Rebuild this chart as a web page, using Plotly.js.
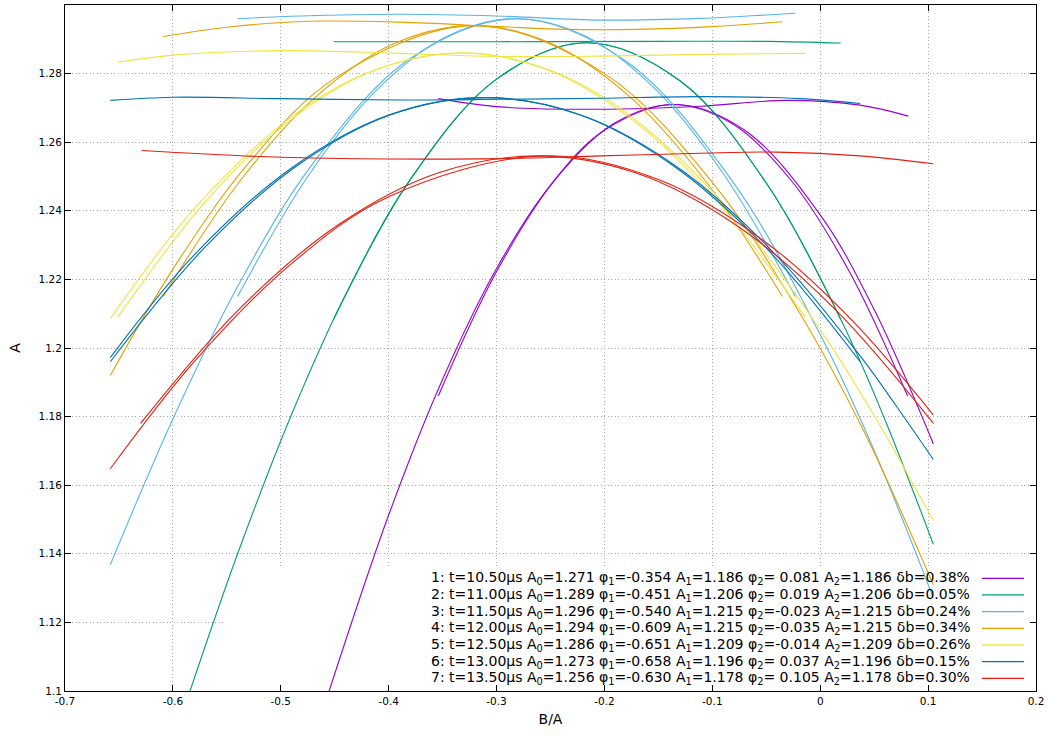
<!DOCTYPE html>
<html>
<head>
<meta charset="utf-8">
<script src="https://cdn.plot.ly/plotly-3.0.1.min.js"></script>
<style>
html,body{margin:0;padding:0;background:#fff;}
#chart{width:1051px;height:736px;}
</style>
</head>
<body>
<div id="chart"></div>
<script>
// ---- legend parameters ----
const seriesColors = ['#9400d3','#009e73','#56b4e9','#e69f00','#f0e442','#0072b2','#e51e10'];
const tValues   = [10.50, 11.00, 11.50, 12.00, 12.50, 13.00, 13.50];
const a0Values  = [1.271, 1.289, 1.296, 1.294, 1.286, 1.273, 1.256];
const phi1Values= [-0.354, -0.451, -0.540, -0.609, -0.651, -0.658, -0.630];
const a1Values  = [1.186, 1.206, 1.215, 1.215, 1.209, 1.196, 1.178];
const phi2Values= [0.081, 0.019, -0.023, -0.035, -0.014, 0.037, 0.105];
const a2Values  = [1.186, 1.206, 1.215, 1.215, 1.209, 1.196, 1.178];
const dbValues  = [0.38, 0.05, 0.24, 0.34, 0.26, 0.15, 0.30];

// ---- tick labels ----
const xTickVals   = [-0.7,-0.6,-0.5,-0.4,-0.3,-0.2,-0.1,0,0.1,0.2];
const xTickLabels = ['-0.7','-0.6','-0.5','-0.4','-0.3','-0.2','-0.1','0','0.1','0.2'];
const yTickVals   = [1.1,1.12,1.14,1.16,1.18,1.2,1.22,1.24,1.26,1.28,1.3];
const yTickLabels = ['1.1','1.12','1.14','1.16','1.18','1.2','1.22','1.24','1.26','1.28','1.3'];

// ---- series 1 ----
const s1FlatX   = [-0.354, -0.297, -0.204, -0.111, -0.03, 0.037, 0.0817];
const s1FlatY   = [1.2727, 1.2703, 1.2696, 1.2705, 1.2722, 1.2708, 1.2676];
const s1WideX   = [-0.456, -0.40, -0.35, -0.30, -0.25, -0.20, -0.135, -0.07, 0.0, 0.05, 0.1048];
const s1WideY   = [1.0992, 1.1513, 1.1909, 1.2232, 1.2475, 1.2635, 1.2710, 1.2635, 1.2388, 1.2112, 1.1721];
const s1NarrowX = [-0.354, -0.2996, -0.2453, -0.1909, -0.1365, -0.0821, -0.0278, 0.0266, 0.081];
const s1NarrowY = [1.186, 1.2225, 1.2492, 1.2655, 1.2710, 1.2655, 1.2492, 1.2225, 1.186];
// ---- series 2 ----
const s2FlatX   = [-0.451, -0.30, -0.15, -0.05, 0.019];
const s2FlatY   = [1.2893, 1.2893, 1.2894, 1.2894, 1.2889];
const s2WideX   = [-0.587, -0.54, -0.49, -0.44, -0.38, -0.30, -0.216, -0.13, -0.05, 0.02, 0.06, 0.1048];
const s2WideY   = [1.0973, 1.1400, 1.1806, 1.2155, 1.2491, 1.2784, 1.2890, 1.2779, 1.2481, 1.2077, 1.1791, 1.1428];
const s2NarrowX = [-0.451, -0.38, -0.30, -0.216, -0.13, -0.05, 0.019];
const s2NarrowY = [1.2084, 1.2491, 1.2784, 1.2890, 1.2779, 1.2481, 1.2084];
// ---- series 3 ----
const s3FlatX   = [-0.540, -0.482, -0.39, -0.30, -0.204, -0.111, -0.05, -0.023];
const s3FlatY   = [1.2960, 1.2968, 1.2973, 1.2968, 1.2956, 1.2961, 1.2971, 1.2976];
const s3WideX   = [-0.658, -0.60, -0.54, -0.47, -0.38, -0.2815, -0.18, -0.08, 0.0, 0.05, 0.1048];
const s3WideY   = [1.1368, 1.1793, 1.2179, 1.2539, 1.2844, 1.2960, 1.2836, 1.2480, 1.2039, 1.1701, 1.1272];
const s3NarrowX = [-0.540, -0.4754, -0.4108, -0.3461, -0.2815, -0.2169, -0.1523, -0.0876, -0.023];
const s3NarrowY = [1.215, 1.2498, 1.2753, 1.2908, 1.2960, 1.2908, 1.2753, 1.2498, 1.215];
// ---- series 4 ----
const s4FlatX   = [-0.609, -0.55, -0.48, -0.39, -0.297, -0.235, -0.17, -0.10, -0.035];
const s4FlatY   = [1.2908, 1.2935, 1.2952, 1.2950, 1.2937, 1.2929, 1.2929, 1.2937, 1.2951];
const s4WideX   = [-0.658, -0.60, -0.53, -0.45, -0.322, -0.20, -0.10, -0.02, 0.04, 0.1048];
const s4WideY   = [1.1920, 1.2230, 1.2538, 1.2786, 1.2940, 1.2800, 1.2483, 1.2107, 1.1760, 1.1310];
const s4NarrowX = [-0.609, -0.5373, -0.4655, -0.3938, -0.322, -0.2503, -0.1785, -0.1068, -0.035];
const s4NarrowY = [1.215, 1.2489, 1.2738, 1.2889, 1.2940, 1.2889, 1.2738, 1.2489, 1.215];
// ---- series 5 ----
const s5FlatX   = [-0.651, -0.60, -0.50, -0.39, -0.297, -0.204, -0.111, -0.0135];
const s5FlatY   = [1.2833, 1.2854, 1.2867, 1.2859, 1.2850, 1.2851, 1.2856, 1.2859];
const s5WideX   = [-0.658, -0.58, -0.49, -0.42, -0.3325, -0.25, -0.18, -0.08, 0.0, 0.05, 0.1048];
const s5WideY   = [1.2086, 1.2407, 1.2674, 1.2802, 1.2860, 1.2809, 1.2686, 1.2388, 1.2053, 1.1803, 1.1497];
const s5NarrowX = [-0.651, -0.5714, -0.4918, -0.4121, -0.3325, -0.2529, -0.1733, -0.0936, -0.014];
const s5NarrowY = [1.209, 1.2421, 1.2663, 1.2811, 1.2860, 1.2811, 1.2663, 1.2421, 1.209];
// ---- series 6 ----
const s6FlatX   = [-0.658, -0.60, -0.50, -0.39, -0.297, -0.204, -0.111, -0.0187, 0.037];
const s6FlatY   = [1.2722, 1.2731, 1.2727, 1.2723, 1.2725, 1.2728, 1.2733, 1.2727, 1.2713];
const s6WideX   = [-0.658, -0.58, -0.49, -0.40, -0.3105, -0.22, -0.13, -0.04, 0.037, 0.07, 0.1048];
const s6WideY   = [1.1972, 1.2272, 1.2525, 1.2679, 1.2730, 1.2677, 1.2522, 1.2268, 1.1977, 1.1833, 1.1675];
const s6NarrowX = [-0.658, -0.5711, -0.4843, -0.3974, -0.3105, -0.2236, -0.1368, -0.0499, 0.037];
const s6NarrowY = [1.196, 1.2291, 1.2533, 1.2681, 1.2730, 1.2681, 1.2533, 1.2291, 1.196];
// ---- series 7 ----
const s7FlatX   = [-0.629, -0.50, -0.40, -0.297, -0.204, -0.111, -0.04, 0.037, 0.1048];
const s7FlatY   = [1.2576, 1.2556, 1.2551, 1.2552, 1.2560, 1.2568, 1.2571, 1.2560, 1.2537];
const s7WideX   = [-0.658, -0.58, -0.49, -0.40, -0.258, -0.15, -0.05, 0.03, 0.1048];
const s7WideY   = [1.1648, 1.1961, 1.2246, 1.2441, 1.2560, 1.2491, 1.2307, 1.2079, 1.1805];
const s7NarrowX = [-0.630, -0.5381, -0.4463, -0.3544, -0.2625, -0.1706, -0.0788, 0.0131, 0.105];
const s7NarrowY = [1.178, 1.2115, 1.2360, 1.2510, 1.2560, 1.2510, 1.2360, 1.2115, 1.178];

const seriesCurves = [
  [[s1FlatX,s1FlatY],[s1WideX,s1WideY],[s1NarrowX,s1NarrowY]],
  [[s2FlatX,s2FlatY],[s2WideX,s2WideY],[s2NarrowX,s2NarrowY]],
  [[s3FlatX,s3FlatY],[s3WideX,s3WideY],[s3NarrowX,s3NarrowY]],
  [[s4FlatX,s4FlatY],[s4WideX,s4WideY],[s4NarrowX,s4NarrowY]],
  [[s5FlatX,s5FlatY],[s5WideX,s5WideY],[s5NarrowX,s5NarrowY]],
  [[s6FlatX,s6FlatY],[s6WideX,s6WideY],[s6NarrowX,s6NarrowY]],
  [[s7FlatX,s7FlatY],[s7WideX,s7WideY],[s7NarrowX,s7NarrowY]]
];

const traces = [];
seriesCurves.forEach(function(curves, i){
  curves.forEach(function(c){
    traces.push({
      type:'scatter', mode:'lines', x:c[0], y:c[1],
      line:{color:seriesColors[i], width:1.1, shape:'spline', smoothing:1},
      showlegend:false, hoverinfo:'skip'
    });
  });
});

function fmtPhi(v){ return (v >= 0 ? ' ' : '') + v.toFixed(3); }

const FONT = 'DejaVu Sans, Liberation Sans, sans-serif';
const plotTop = 5, plotBottom = 691, plotH = plotBottom - plotTop;
const annotations = [];
// opaque key background (hides the grid behind the key, drawn under the curves)
const shapes = [{
  type:'rect', xref:'x', yref:'y', x0:-0.5536, x1:0.2, y0:1.1, y1:1.1356,
  fillcolor:'#ffffff', line:{width:0}, layer:'between'
}];
for (let i = 0; i < tValues.length; i++) {
  const py = 578.3 + i*16.67;
  const yp = (plotBottom - py)/plotH;
  const label = (i+1) + ': t=' + tValues[i].toFixed(2) + 'μs A<sub>0</sub>=' + a0Values[i].toFixed(3) +
    ' φ<sub>1</sub>=' + phi1Values[i].toFixed(3) + ' A<sub>1</sub>=' + a1Values[i].toFixed(3) +
    ' φ<sub>2</sub>=' + fmtPhi(phi2Values[i]) + ' A<sub>2</sub>=' + a2Values[i].toFixed(3) +
    ' δb=' + dbValues[i].toFixed(2) + '%';
  annotations.push({
    xref:'paper', yref:'paper', x:0.9341, y:yp, xanchor:'right', yanchor:'middle',
    text:label, showarrow:false, font:{family:FONT, size:14, color:'#000'}
  });
  shapes.push({
    type:'line', xref:'paper', yref:'paper', x0:0.9444, x1:0.9876, y0:yp, y1:yp,
    line:{color:seriesColors[i], width:1.3}, layer:'above'
  });
}

const axisCommon = {
  showgrid:true, gridcolor:'#a8a8a8', griddash:'1px,2.5px', gridwidth:1,
  zeroline:false, showline:true, linecolor:'#000', linewidth:1, mirror:'ticks',
  ticks:'inside', ticklen:6, tickwidth:1, tickcolor:'#000',
  tickfont:{family:FONT, size:10.5, color:'#000'}
};

const layout = {
  width:1051, height:736,
  margin:{l:65, r:15, t:5, b:45, pad:0},
  paper_bgcolor:'#fff', plot_bgcolor:'#fff',
  showlegend:false,
  xaxis: Object.assign({}, axisCommon, {
    range:[-0.7,0.2], tickmode:'array', tickvals:xTickVals, ticktext:xTickLabels,
    title:{text:'B/A', font:{family:FONT, size:14, color:'#000'}, standoff:8},
    automargin:false
  }),
  yaxis: Object.assign({}, axisCommon, {
    range:[1.1,1.3], tickmode:'array', tickvals:yTickVals, ticktext:yTickLabels,
    title:{text:'A', font:{family:FONT, size:14, color:'#000'}, standoff:14},
    automargin:false
  }),
  annotations:annotations,
  shapes:shapes
};

Plotly.newPlot('chart', traces, layout, {displayModeBar:false, staticPlot:true});
</script>
</body>
</html>
